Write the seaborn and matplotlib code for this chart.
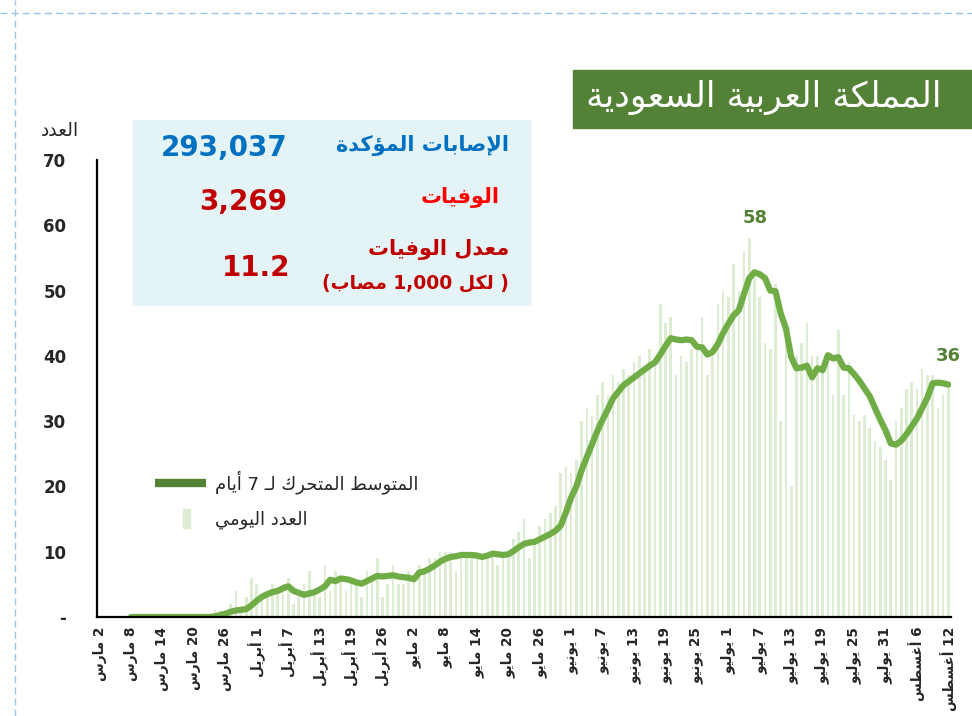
import re
import numpy as np
import pandas as pd
import seaborn as sns
import matplotlib.pyplot as plt
from matplotlib.lines import Line2D
from matplotlib.patches import Patch, Rectangle
from matplotlib.legend_handler import HandlerPatch

# ---------------- data ----------------
# one category per reported day (20 April is missing from the source series)
days = pd.date_range("2020-03-02", "2020-08-12").drop(pd.Timestamp("2020-04-20"))

daily = [0] * 22 + [
    1, 1, 0, 2, 4, 1, 3, 6, 5,
    3, 4, 5, 4, 5, 6, 2, 3, 5, 7,
    4, 3, 8, 4, 7, 6, 4, 6, 5, 3,
    7, 6, 9, 3, 5, 8, 5, 5, 7, 6,
    8, 7, 9, 9, 10, 10, 10, 7, 9, 9,
    9, 10, 9, 9, 10, 8, 10, 9, 12, 13,
    15, 9, 12, 14, 15, 16, 17, 22, 23, 22,
    24, 30, 32, 31, 34, 36, 34, 37, 36, 38,
    37, 39, 40, 38, 41, 39, 48, 45, 46, 37,
    40, 39, 41, 42, 46, 37, 41, 48, 50, 49,
    54, 50, 56, 58, 52, 49, 42, 41, 51, 30,
    44, 20, 40, 42, 45, 40, 40, 38, 40, 34,
    44, 34, 39, 31, 30, 31, 29, 27, 26, 24,
    21, 30, 32, 35, 36, 35, 38, 37, 37, 32,
    34, 36,
]

avg7 = [np.nan] * 6 + [0] * 16 + [
    0.1, 0.3, 0.5, 0.8, 1.0, 1.1, 1.2, 1.8, 2.5,
    3.1, 3.5, 3.8, 4.0, 4.4, 4.7, 4.0, 3.7, 3.4, 3.6,
    3.8, 4.2, 4.7, 5.7, 5.5, 5.9, 5.8, 5.6, 5.3, 5.1,
    5.5, 5.9, 6.3, 6.2, 6.3, 6.4, 6.2, 6.1, 6.0, 5.8,
    6.8, 7.0, 7.4, 7.9, 8.5, 8.9, 9.2, 9.3, 9.5, 9.5,
    9.5, 9.4, 9.2, 9.4, 9.7, 9.6, 9.5, 9.6, 10.1, 10.7,
    11.2, 11.4, 11.5, 11.9, 12.3, 12.7, 13.2, 14.0, 16.0, 18.3,
    20.0, 22.5, 24.5, 26.5, 28.5, 30.2, 31.8, 33.5, 34.5, 35.5,
    36.1, 36.7, 37.3, 37.9, 38.5, 39.0, 40.2, 41.5, 42.7, 42.5,
    42.4, 42.5, 42.4, 41.4, 41.3, 40.2, 40.6, 41.8, 43.5, 44.9,
    46.2, 47.0, 49.5, 51.9, 52.8, 52.5, 51.9, 50.0, 49.9, 46.5,
    44.2, 39.8, 38.1, 38.2, 38.5, 36.7, 38.1, 37.8, 40.1, 39.6,
    39.8, 38.2, 38.1, 37.2, 36.2, 35.0, 33.8, 32.0, 30.2, 28.6,
    26.6, 26.4, 27.0, 28.0, 29.2, 30.4, 32.0, 33.6, 35.8, 35.9,
    35.8, 35.6,
]

tick_labels = [
    "2 مارس", "8 مارس", "14 مارس", "20 مارس", "26 مارس",
    "1 أبريل", "7 أبريل", "13 أبريل", "19 أبريل", "26 أبريل",
    "2 مايو", "8 مايو", "14 مايو", "20 مايو", "26 مايو",
    "1 يونيو", "7 يونيو", "13 يونيو", "19 يونيو", "25 يونيو",
    "1 يوليو", "7 يوليو", "13 يوليو", "19 يوليو", "25 يوليو", "31 يوليو",
    "6 أغسطس", "12 أغسطس",
]

country = "المملكة العربية السعودية"
cases_label, cases = "الإصابات المؤكدة", "293,037"
deaths_label, deaths = "الوفيات", "3,269"
rate_label, rate_note, rate = "معدل الوفيات", "( لكل 1,000 مصاب)", "11.2"

# ---------------- arabic shaping (matplotlib has no text shaping) ----------------
FORMS = {  # isolated, final, initial, medial
    "آ": "\uFE81\uFE82", "أ": "\uFE83\uFE84", "ؤ": "\uFE85\uFE86", "إ": "\uFE87\uFE88",
    "ا": "\uFE8D\uFE8E", "ب": "\uFE8F\uFE90\uFE91\uFE92", "ة": "\uFE93\uFE94",
    "ت": "\uFE95\uFE96\uFE97\uFE98", "ح": "\uFEA1\uFEA2\uFEA3\uFEA4", "د": "\uFEA9\uFEAA",
    "ر": "\uFEAD\uFEAE", "س": "\uFEB1\uFEB2\uFEB3\uFEB4", "ص": "\uFEB9\uFEBA\uFEBB\uFEBC",
    "ط": "\uFEC1\uFEC2\uFEC3\uFEC4", "ع": "\uFEC9\uFECA\uFECB\uFECC", "غ": "\uFECD\uFECE\uFECF\uFED0",
    "ف": "\uFED1\uFED2\uFED3\uFED4", "ك": "\uFED9\uFEDA\uFEDB\uFEDC", "ل": "\uFEDD\uFEDE\uFEDF\uFEE0",
    "م": "\uFEE1\uFEE2\uFEE3\uFEE4", "ن": "\uFEE5\uFEE6\uFEE7\uFEE8", "و": "\uFEED\uFEEE",
    "ي": "\uFEF1\uFEF2\uFEF3\uFEF4",
}
LAM_ALEF = {"آ": "\uFEF5\uFEF6", "أ": "\uFEF7\uFEF8", "إ": "\uFEF9\uFEFA", "ا": "\uFEFB\uFEFC"}
TATWEEL = "\u0640"


def _joins_next(c):
    return c == TATWEEL or len(FORMS.get(c, "")) == 4


def ar(text):
    chars, i = [], 0
    while i < len(text):
        if text[i] == "ل" and i + 1 < len(text) and text[i + 1] in LAM_ALEF:
            chars.append(("LA", text[i + 1]))
            i += 2
        else:
            chars.append(text[i])
            i += 1
    out = []
    for k, c in enumerate(chars):
        prev = chars[k - 1] if k > 0 else None
        nxt = chars[k + 1] if k + 1 < len(chars) else None
        p = isinstance(prev, str) and _joins_next(prev)
        if isinstance(c, tuple):
            out.append(LAM_ALEF[c[1]][1 if p else 0])
            continue
        if c not in FORMS:
            out.append(c)
            continue
        f = FORMS[c]
        n = len(f) == 4 and nxt is not None and (isinstance(nxt, tuple) or nxt in FORMS or nxt == TATWEEL)
        out.append(f[3] if p and n else f[1] if p else f[2] if n else f[0])
    s = "".join(out)[::-1]
    s = re.sub(r"[0-9][0-9,.]*", lambda m: m.group(0)[::-1], s)
    return s.translate(str.maketrans("()", ")("))


# ---------------- plot ----------------
sns.set_style("white")
plt.rcParams["font.family"] = ["DejaVu Sans"]

df = pd.DataFrame({"day": days.strftime("%Y-%m-%d"), "daily": daily, "avg7": avg7})
df["pos"] = np.arange(len(df))

fig = plt.figure(figsize=(9.72, 7.16), dpi=100)
ax = fig.add_axes([97 / 972, 1 - 617 / 716, 854 / 972, 457 / 716])

bar_color = "#DDEDD3"
line_color = "#70AD47"
dark_green = "#548235"

sns.barplot(data=df, x="day", y="daily", color=bar_color, saturation=1, width=0.5,
            linewidth=0, ax=ax)
sns.lineplot(data=df, x="pos", y="avg7", color=line_color, linewidth=4.5, ax=ax)

ax.set_xlim(-0.5, len(df) - 0.5)
ax.set_ylim(0, 70)
ax.set_xticks(df["pos"][::6], [ar(t) for t in tick_labels])
ax.set_yticks(range(0, 80, 10), ["-"] + [str(v) for v in range(10, 80, 10)])
ax.tick_params(axis="x", length=0, pad=7, labelsize=9.8, rotation=90)
ax.tick_params(axis="y", length=0, pad=22, labelsize=12)
for lab in ax.get_xticklabels() + ax.get_yticklabels():
    lab.set_fontweight("bold")
ax.set_xlabel("")
ax.set_ylabel("")
sns.despine(ax=ax)
for s in ("left", "bottom"):
    ax.spines[s].set_color("black")
    ax.spines[s].set_linewidth(1.6)

# value labels
peak = int(np.argmax(daily))
ax.annotate(f"{daily[peak]:.0f}", (peak, daily[peak]), xytext=(4, 8), textcoords="offset points",
            ha="center", va="bottom", fontsize=13, fontweight="bold", color=dark_green)
ax.annotate(f"{avg7[-1]:.0f}", (len(df) - 1, avg7[-1]), xytext=(0, 14), textcoords="offset points",
            ha="center", va="bottom", fontsize=13, fontweight="bold", color=dark_green)

fig.text(60 / 972, 1 - 130 / 716, ar("العدد"), ha="center", va="center", fontsize=13.5)

# legend
bar_handle = Patch(color=bar_color)


def narrow_bar(legend, orig_handle, xdescent, ydescent, width, height, fontsize):
    return Rectangle((width * 0.56 - xdescent, -ydescent - height * 0.25), width * 0.14, height * 1.5)


ax.legend([Line2D([], [], color=dark_green, linewidth=6, solid_capstyle="butt"), bar_handle],
          [ar("المتوسط المتحرك لـ 7 أيام"), ar("العدد اليومي")],
          handler_map={Patch: HandlerPatch(patch_func=narrow_bar)},
          loc="upper left", bbox_to_anchor=(155 / 972, 1 - 470 / 716), bbox_transform=fig.transFigure,
          frameon=False, fontsize=13, handlelength=2.8, handletextpad=0.5, labelspacing=0.95,
          borderpad=0, borderaxespad=0)

# title box
fig.patches.append(Rectangle((573 / 972, 1 - 128 / 716), 400 / 972, 58 / 716,
                             transform=fig.transFigure, color="#538135", zorder=0))
fig.text(764 / 972, 1 - 97 / 716, ar(country), ha="center", va="center", fontsize=25, color="white")

# info box
fig.patches.append(Rectangle((133 / 972, 1 - 305 / 716), 397 / 972, 185 / 716,
                             transform=fig.transFigure, color="#E4F4F6", zorder=0))
blue, red, dark_red = "#0070C0", "#FF0000", "#C00000"
fig.text(509 / 972, 1 - 145 / 716, ar(cases_label), ha="right", va="center", fontsize=15,
         fontweight="bold", color=blue)
fig.text(287 / 972, 1 - 148 / 716, cases, ha="right", va="center", fontsize=20, fontweight="bold", color=blue)
fig.text(500 / 972, 1 - 197 / 716, ar(deaths_label), ha="right", va="center", fontsize=15,
         fontweight="bold", color=red)
fig.text(287 / 972, 1 - 202 / 716, deaths, ha="right", va="center", fontsize=20, fontweight="bold",
         color=dark_red)
fig.text(509 / 972, 1 - 250 / 716, ar(rate_label), ha="right", va="center", fontsize=15,
         fontweight="bold", color=dark_red)
fig.text(509 / 972, 1 - 283 / 716, ar(rate_note), ha="right", va="center", fontsize=13.5,
         fontweight="bold", color=dark_red)
fig.text(290 / 972, 1 - 268 / 716, rate, ha="right", va="center", fontsize=20, fontweight="bold",
         color=dark_red)

# slide guide lines
guide = dict(transform=fig.transFigure, color="#9DC3E6", linewidth=1, linestyle=(0, (5, 3)))
fig.add_artist(Line2D([0, 1], [1 - 13 / 716] * 2, **guide))
fig.add_artist(Line2D([15 / 972] * 2, [0, 1], **guide))

fig.savefig("out.png", dpi=100, facecolor="white")
